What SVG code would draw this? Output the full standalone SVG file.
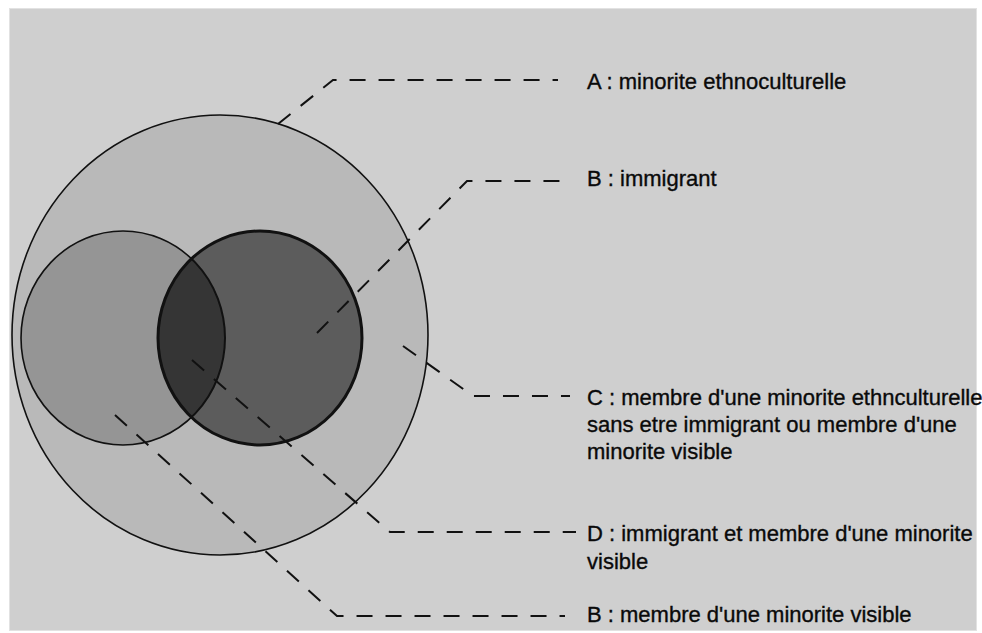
<svg xmlns="http://www.w3.org/2000/svg" width="982" height="633" viewBox="0 0 982 633">
<style>
.lbl{font-family:"Liberation Sans",Arial,sans-serif;font-size:22px;fill:#0a0a0a;stroke:#0a0a0a;stroke-width:0.35}
.dash{fill:none;stroke:#111;stroke-width:2;stroke-dasharray:16 13}
.thin{stroke:#111;stroke-width:1.6}
</style>
<defs>
<clipPath id="clipRight"><ellipse cx="260" cy="338" rx="102" ry="107"/></clipPath>
</defs>
<rect x="0" y="0" width="982" height="633" fill="#ffffff"/>
<rect x="9.5" y="8.5" width="967" height="622" fill="#cfcfcf" stroke="#e2e2e2" stroke-width="1"/>

<g id="circle-A">
<ellipse cx="220" cy="335" rx="208" ry="220" fill="#b9b9b9" class="thin"/>
</g>
<g id="circle-visible">
<ellipse cx="123" cy="338" rx="102" ry="107" fill="#959595" class="thin"/>
</g>
<g id="circle-immigrant">
<ellipse cx="260" cy="338" rx="102" ry="107" fill="#5c5c5c" stroke="none"/>
</g>
<g id="region-D">
<ellipse cx="123" cy="338" rx="102" ry="107" fill="#353535" stroke="#111" stroke-width="2" clip-path="url(#clipRight)"/>
</g>
<g id="circle-immigrant-outline">
<ellipse cx="260" cy="338" rx="102" ry="107" fill="none" stroke="#111" stroke-width="3"/>
</g>

<g id="connectors">
<path class="dash" d="M278,124 L333,80 L558,80"/>
<path class="dash" d="M317,333 L467,181 L570,181"/>
<path class="dash" d="M403,346 L473,396 L570,396"/>
<path class="dash" d="M192,360 L390,532 L576,532"/>
<path class="dash" d="M115,415 L337,616 L565,616"/>
</g>

<g id="label-A"><text class="lbl" x="587" y="89">A : minorite ethnoculturelle</text></g>
<g id="label-B-immigrant"><text class="lbl" x="587" y="186">B : immigrant</text></g>
<g id="label-C"><text class="lbl" x="587" y="405">C : membre d'une minorite ethnculturelle</text>
<text class="lbl" x="587" y="432">sans etre immigrant ou membre d'une</text>
<text class="lbl" x="587" y="459">minorite visible</text></g>
<g id="label-D"><text class="lbl" x="587" y="541">D : immigrant et membre d'une minorite</text>
<text class="lbl" x="587" y="569">visible</text></g>
<g id="label-B-visible"><text class="lbl" x="587" y="622">B : membre d'une minorite visible</text></g>
</svg>
